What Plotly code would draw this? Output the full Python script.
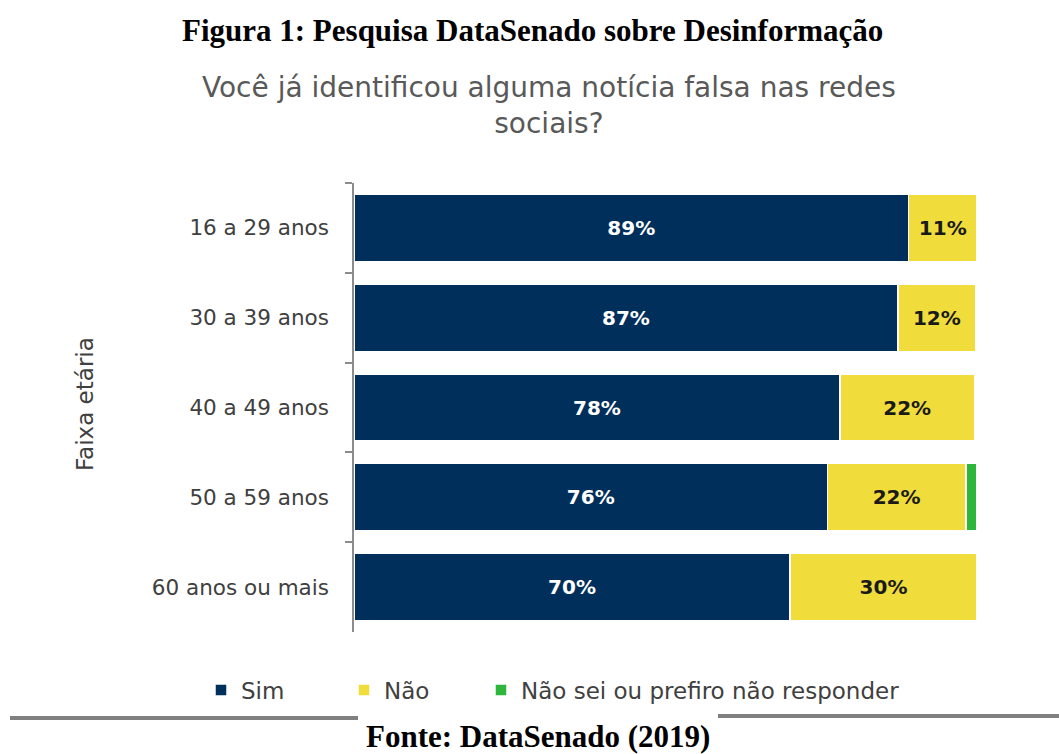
import plotly.graph_objects as go

categories = ["16 a 29 anos", "30 a 39 anos", "40 a 49 anos", "50 a 59 anos", "60 anos ou mais"]
sim = [89, 87.3, 78, 76, 70]
nao = [11, 12.5, 21.6, 22.2, 30]
nao_sei = [0, 0, 0, 1.8, 0]
sim_labels = ["89%", "87%", "78%", "76%", "70%"]
nao_labels = ["11%", "12%", "22%", "22%", "30%"]

W, H = 1059, 754
L, R, T, B = 354, 977, 183, 632
pw, ph = R - L, B - T

def px(x):
    return (x - L) / pw

def py(y):
    return (B - y) / ph

FONT = "'DejaVu Sans', sans-serif"
SERIF = "'Liberation Serif', 'Times New Roman', serif"

fig = go.Figure()
fig.add_trace(go.Bar(
    y=categories, x=sim, orientation="h", name="Sim", legend="legend",
    marker=dict(color="#002F5B", line=dict(width=1.5, color="white")),
    text=sim_labels, textposition="inside", insidetextanchor="middle",
    textfont=dict(color="white", size=20, family=FONT, weight="bold"),
    hoverinfo="skip",
))
fig.add_trace(go.Bar(
    y=categories, x=nao, orientation="h", name="Não", legend="legend2",
    marker=dict(color="#F0DC3A", line=dict(width=1.5, color="white")),
    text=nao_labels, textposition="inside", insidetextanchor="middle",
    textfont=dict(color="#1a1a1a", size=20, family=FONT, weight="bold"),
    hoverinfo="skip",
))
fig.add_trace(go.Bar(
    y=categories, x=nao_sei, orientation="h", name="Não sei ou prefiro não responder", legend="legend3",
    marker=dict(color="#2DB53C", line=dict(width=1.5, color="white")),
    textposition="none",
    hoverinfo="skip",
))

leg_common = dict(orientation="h", xanchor="left", yanchor="middle", bgcolor="rgba(0,0,0,0)",
                  font=dict(size=23, color="#404040", family=FONT), itemwidth=30)

fig.update_layout(
    width=W, height=H,
    barmode="stack", bargap=0.25,
    margin=dict(l=L, r=W - R, t=T, b=H - B),
    plot_bgcolor="white", paper_bgcolor="white",
    font=dict(family=FONT, color="#404040", size=20),
    showlegend=True,
    legend=dict(x=px(201), y=py(690), **leg_common),
    legend2=dict(x=px(344), y=py(690), **leg_common),
    legend3=dict(x=px(481), y=py(690), **leg_common),
    xaxis=dict(range=[0, 100], visible=False, fixedrange=True),
    yaxis=dict(autorange="reversed", showline=True, linecolor="#8c8c8c", linewidth=1.5,
               ticks="outside", tickson="boundaries", ticklen=7, tickcolor="#8c8c8c", tickwidth=1.5,
               ticklabelstandoff=19,
               tickfont=dict(size=21.5, color="#404040", family=FONT), showgrid=False),
)

fig.add_annotation(text="Faixa etária", textangle=-90,
                   xref="paper", yref="paper", x=px(85), y=py(404), showarrow=False,
                   font=dict(family=FONT, size=23, color="#404040"), xanchor="center", yanchor="middle")
fig.add_annotation(text="<b>Figura 1: Pesquisa DataSenado sobre Desinformação</b>",
                   xref="paper", yref="paper", x=px(532), y=py(30), showarrow=False,
                   font=dict(family=SERIF, size=31, color="black"), xanchor="center", yanchor="middle")
fig.add_annotation(text="Você já identificou alguma notícia falsa nas redes<br>sociais?",
                   xref="paper", yref="paper", x=px(549), y=py(106), showarrow=False,
                   font=dict(family=FONT, size=28, color="#595959"), xanchor="center", yanchor="middle")
fig.add_annotation(text="<b>Fonte: DataSenado (2019)</b>",
                   xref="paper", yref="paper", x=px(538), y=py(736), showarrow=False,
                   font=dict(family=SERIF, size=31, color="black"), xanchor="center", yanchor="middle")

fig.add_shape(type="line", xref="paper", yref="paper", x0=px(10), x1=px(358), y0=py(718), y1=py(718),
              line=dict(color="#808080", width=4))
fig.add_shape(type="line", xref="paper", yref="paper", x0=px(718), x1=px(1059), y0=py(716), y1=py(716),
              line=dict(color="#808080", width=4))

fig.write_html("out.html")
